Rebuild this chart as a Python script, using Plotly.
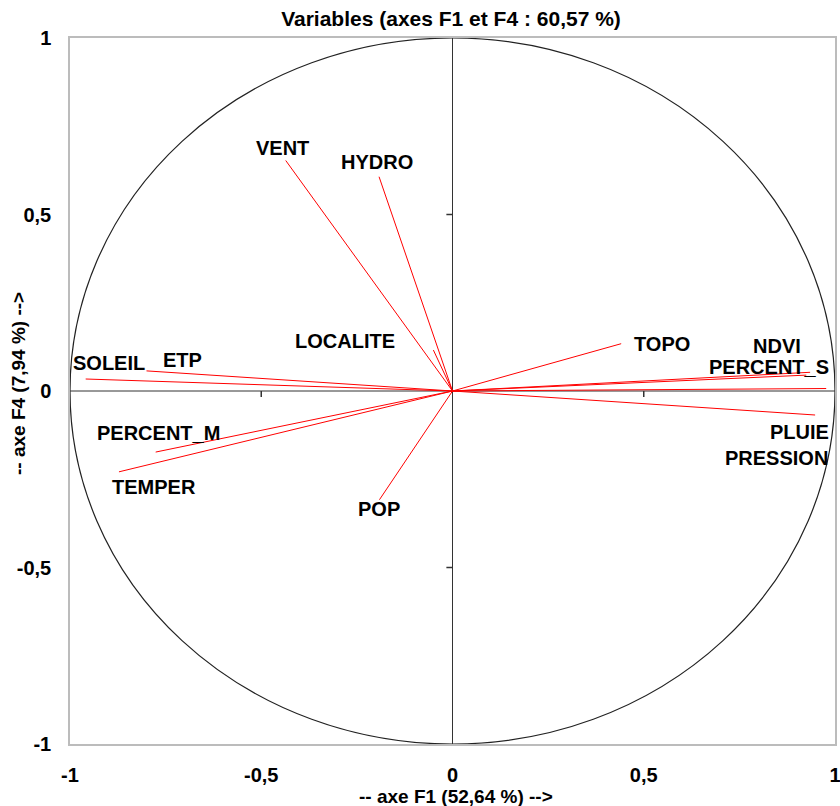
import plotly.graph_objects as go

variables = ["VENT", "HYDRO", "LOCALITE", "TOPO", "NDVI", "PERCENT_S", "PLUIE", "PRESSION",
             "SOLEIL", "ETP", "PERCENT_M", "TEMPER", "POP"]
f1 = [-0.436, -0.192, -0.050, 0.441, 0.935, 0.925, 0.977, 0.948, -0.959, -0.800, -0.776, -0.872, -0.191]
f4 = [0.653, 0.607, 0.116, 0.134, 0.053, 0.045, 0.007, -0.068, 0.034, 0.057, -0.173, -0.229, -0.308]

tick_vals = [-1, -0.5, 0, 0.5, 1]
tick_text = ["-1", "-0,5", "0", "0,5", "1"]

title_text = "Variables (axes F1 et F4 : 60,57 %)"
x_title = "-- axe F1 (52,64 %) -->"
y_title = "-- axe F4 (7,94 %) -->"

# label offsets in pixels (style only)
label_shift = {
    "VENT": (-3, 12), "HYDRO": (-2, 15), "LOCALITE": (-88, 9), "TOPO": (41, 0),
    "NDVI": (-33, 26), "PERCENT_S": (-37, 8), "PLUIE": (-27, -43), "PRESSION": (-39, -43),
    "SOLEIL": (23, 16), "ETP": (36, 11), "PERCENT_M": (3, 19), "TEMPER": (35, -15), "POP": (0, -9),
}

xs, ys = [], []
for x, y in zip(f1, f4):
    xs += [0, x, None]
    ys += [0, y, None]

fig = go.Figure()
fig.add_trace(go.Scatter(x=xs, y=ys, mode="lines", line=dict(color="red", width=1),
                         hoverinfo="skip", showlegend=False))

fam = "Liberation Sans, Arial"
for name, x, y in zip(variables, f1, f4):
    dx, dy = label_shift[name]
    fig.add_annotation(x=x, y=y, text="<b>" + name + "</b>", showarrow=False,
                       xshift=dx, yshift=dy,
                       font=dict(family=fam, size=20, color="black"))

# axis titles
fig.add_annotation(xref="paper", yref="paper", x=0.5, y=0, xshift=3.5, yshift=-52,
                   xanchor="center", yanchor="middle",
                   text="<b>" + x_title + "</b>", showarrow=False,
                   font=dict(family=fam, size=19, color="black"))
fig.add_annotation(xref="paper", yref="paper", x=0, y=0.5, xshift=-52, yshift=7,
                   xanchor="center", yanchor="middle",
                   text="<b>" + y_title + "</b>", showarrow=False, textangle=-90,
                   font=dict(family=fam, size=19, color="black"))

axis_col = "#333333"
shapes = [
    dict(type="circle", xref="x", yref="y", x0=-1, y0=-1, x1=1, y1=1,
         line=dict(color="#222222", width=1.2), layer="below"),
    dict(type="line", xref="x", yref="y", x0=0, y0=-1, x1=0, y1=1,
         line=dict(color=axis_col, width=1), layer="below"),
    dict(type="line", xref="x", yref="y", x0=-1, y0=0, x1=1, y1=0,
         line=dict(color=axis_col, width=1), layer="below"),
]
for t in [-0.5, 0.5]:
    shapes.append(dict(type="line", xref="x", yref="y", x0=t, x1=t, y0=-0.017, y1=0,
                       line=dict(color=axis_col, width=1.5), layer="below"))
    shapes.append(dict(type="line", xref="x", yref="y", y0=t, y1=t, x0=-0.016, x1=0,
                       line=dict(color=axis_col, width=1.5), layer="below"))

tickfont = dict(family=fam, size=20, color="black", weight="bold")
fig.update_layout(
    width=840, height=806,
    margin=dict(l=70, r=5, t=38, b=62, autoexpand=False),
    plot_bgcolor="white", paper_bgcolor="white",
    shapes=shapes,
    title=dict(text="<b>" + title_text + "</b>", x=451 / 840, xanchor="center",
               xref="container", y=1 - 19 / 806, yref="container", yanchor="middle",
               font=dict(family=fam, size=21, color="black")),
    xaxis=dict(range=[-1, 1], tickvals=tick_vals, ticktext=tick_text, showgrid=False,
               zeroline=False, showline=True, mirror=True, linecolor="#bcbcbc", linewidth=1.5,
               ticks="", tickfont=tickfont, automargin=False, ticklabelstandoff=12,
               ticklabeloverflow="allow"),
    yaxis=dict(range=[-1, 1], tickvals=tick_vals, ticktext=tick_text, showgrid=False,
               zeroline=False, showline=True, mirror=True, linecolor="#bcbcbc", linewidth=1.5,
               ticks="", tickfont=tickfont, automargin=False, ticklabelstandoff=13,
               ticklabeloverflow="allow"),
)
# remove the default page margin so the 840x806 figure fills the window exactly
fig.write_html("out.html", config={"displayModeBar": False},
               post_script="document.body.style.margin='0';"
                           "document.documentElement.style.overflow='hidden';")
